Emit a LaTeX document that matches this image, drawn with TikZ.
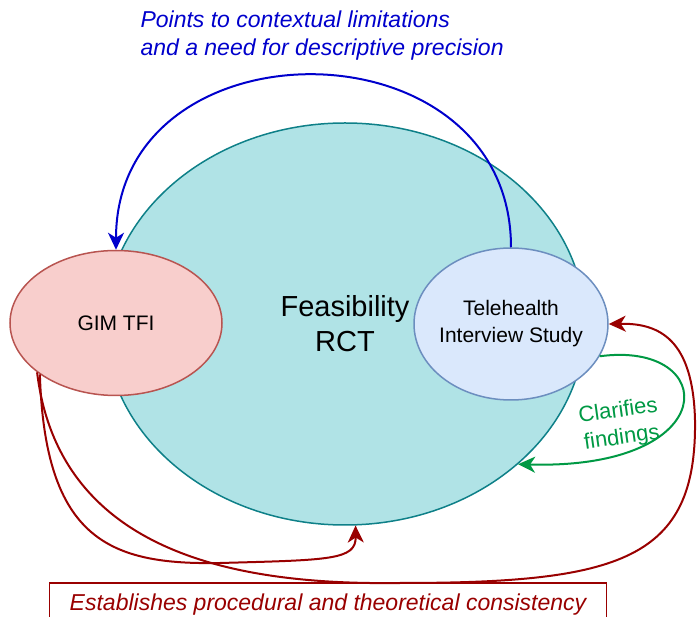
\documentclass[tikz,border=0pt]{standalone}
\usepackage{fontspec}
\setmainfont{Liberation Sans}
\usetikzlibrary{
  arrows.meta,
  shapes
}
\definecolor{rctfill}{HTML}{B0E3E6}
\definecolor{rctline}{HTML}{0E8088}
\definecolor{gimfill}{HTML}{F8CECC}
\definecolor{gimline}{HTML}{B85450}
\definecolor{telefill}{HTML}{DAE8FC}
\definecolor{teleline}{HTML}{6C8EBF}
\definecolor{linkred}{HTML}{990000}
\definecolor{linkgreen}{HTML}{009944}
\definecolor{linkblue}{HTML}{0000CC}

\begin{document}
\begin{tikzpicture}[
    x=1pt, y=-1pt,
  study/.style = {shape=ellipse, draw, inner sep=0pt,
    line width=1.5pt, align=center,
    font=\fontsize{21}{27}\selectfont},
  link/.style = {line width=2pt,
    -{Stealth[length=17pt,width=16pt,inset=5pt]}},
  note/.style = {font=\fontsize{23}{28}\selectfont\itshape}]
  \clip (0,0) rectangle (697,617);
  \node[study, fill=rctfill, draw=rctline,
    minimum width=480, minimum height=402,
    font=\fontsize{29}{35}\selectfont] (rct) at (345,324) {Feasibility\\RCT};
  \node[study, fill=gimfill, draw=gimline,
    minimum width=212, minimum height=145] (gim) at (116,323) {GIM TFI};
  \node[study, fill=telefill, draw=teleline, inner sep=-8pt,
    minimum width=194, minimum height=152] (tele) at (511,324)
    {Telehealth\\Interview Study};
  % blue link
  \draw[link, linkblue] (tele.north) .. controls (511,18) and (116,18) .. (gim.north);
  \node[note, linkblue, anchor=west, align=left] (contextnote) at (137,36)
    {Points to contextual limitations\\and a need for descriptive precision};
  % green link
  \draw[link, linkgreen] (tele.-20) .. controls (720,340) and (725,470) .. (rct.-39);
  \node[linkgreen, rotate=8, align=center,
    font=\fontsize{22}{27}\selectfont] (clarifynote) at (620,425)
    {Clarifies\\findings};
  % red links
  \draw[link, linkred] (gim.-146) .. controls (45,540) and (110,565) .. (220,563)
    .. controls (330,560) and (356,560) .. (rct.-87);
  \draw[link, linkred] (gim.-148) .. controls (60,560) and (250,585) .. (400,583)
    .. controls (620,583) and (697,560) .. (695,420)
    .. controls (693,340) and (660,323) .. (tele.east);
  \node[note, linkred, draw=linkred, line width=1.5pt,
    minimum width=557, minimum height=44] (consistnote) at (328,605)
    {Establishes procedural and theoretical consistency};
\end{tikzpicture}
\end{document}
